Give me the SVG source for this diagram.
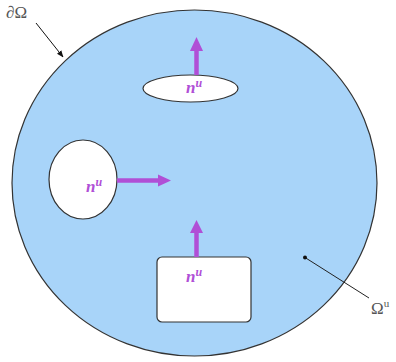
<svg xmlns="http://www.w3.org/2000/svg" width="396" height="362" viewBox="0 0 396 362">
<style>
.hole{fill:#fff;stroke:#333;stroke-width:1.2}
.lbl{font-family:"Liberation Serif",serif;fill:#555;font-size:17px}
.n{font-family:"Liberation Serif",serif;fill:#b04fd6;font-size:17px;font-weight:bold;font-style:italic}
.sup{font-size:12px}
.pa{stroke:#b04fd6;stroke-width:4.5;fill:none}
.ph{fill:#b04fd6}
</style>
<defs>
<marker id="blk" viewBox="0 0 10 10" refX="9" refY="5" markerWidth="7" markerHeight="7" orient="auto" markerUnits="userSpaceOnUse">
<path d="M0,1 L10,5 L0,9 z" fill="#111"/>
</marker>
</defs>
<g id="domain">
<ellipse cx="194.5" cy="183" rx="182.5" ry="173" fill="#a8d4f9" stroke="#333" stroke-width="1.2"/>
</g>
<g id="hole-top">
<ellipse class="hole" cx="190.5" cy="88.5" rx="47.5" ry="13.5"/>
<text class="n" x="186" y="93">n<tspan class="sup" dy="-6">u</tspan></text>
</g>
<g id="hole-left">
<ellipse class="hole" cx="83" cy="179.5" rx="34" ry="39.5"/>
<text class="n" x="86" y="192">n<tspan class="sup" dy="-6">u</tspan></text>
</g>
<g id="hole-rect">
<rect class="hole" x="157" y="257" width="94" height="65" rx="5"/>
<text class="n" x="186" y="282">n<tspan class="sup" dy="-6">u</tspan></text>
</g>
<g id="label-boundary">
<text class="lbl" x="6" y="18">∂Ω</text>
</g>
<g id="label-omega">
<text class="lbl" x="371" y="314">Ω<tspan font-size="11" dy="-7">u</tspan></text>
</g>
<g id="connectors">
<line x1="36" y1="23" x2="63" y2="57" stroke="#111" stroke-width="1" marker-end="url(#blk)"/>
<line x1="305" y1="257.5" x2="369" y2="298" stroke="#222" stroke-width="1"/>
<circle cx="305" cy="257.5" r="2" fill="#111"/>
<line class="pa" x1="196.5" y1="75" x2="196.5" y2="50"/>
<polygon class="ph" points="190,51 203,51 196.5,37"/>
<line class="pa" x1="117" y1="180.5" x2="159" y2="180.5"/>
<polygon class="ph" points="158,174.5 158,186.5 171,180.5"/>
<line class="pa" x1="196.5" y1="257" x2="196.5" y2="232"/>
<polygon class="ph" points="190,233 203,233 196.5,220"/>
</g>
</svg>
